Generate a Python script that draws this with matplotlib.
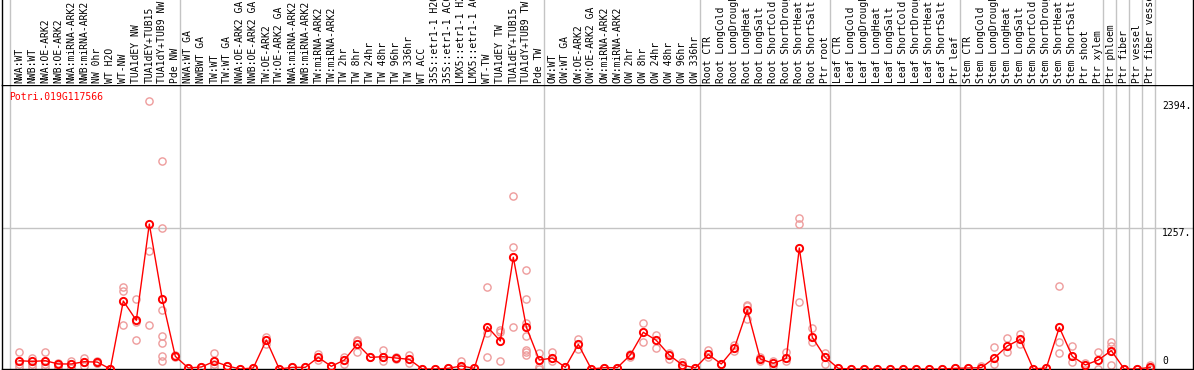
import matplotlib
matplotlib.use("Agg")
import matplotlib.pyplot as plt
from matplotlib.transforms import blended_transform_factory

labels = [
    "NWA:WT", "NWB:WT", "NWA:OE-ARK2", "NWB:OE-ARK2", "NWA:miRNA-ARK2", "NWB:miRNA-ARK2",
    "NW 0hr", "WT H2O", "WT-NW", "TUA1dEY NW", "TUA1dEY+TUB15", "TUA1dY+TUB9 NW", "Pde NW",
    "NWA:WT GA", "NWBWT GA", "TW:WT", "TW:WT GA", "NWA:OE-ARK2 GA", "NWB:OE-ARK2 GA",
    "TW:OE-ARK2", "TW:OE-ARK2 GA", "NWA:miRNA-ARK2", "NWB:miRNA-ARK2", "TW:miRNA-ARK2",
    "TW:miRNA-ARK2", "TW 2hr", "TW 8hr", "TW 24hr", "TW 48hr", "TW 96hr", "TW 336hr",
    "WT ACC", "35S::etr1-1 H2O", "35S::etr1-1 ACC", "LMX5::etr1-1 H2O", "LMX5::etr1-1 ACC",
    "WT-TW", "TUA1dEY TW", "TUA1dEY+TUB15", "TUA1dY+TUB9 TW", "Pde TW",
    "OW:WT", "OW:WT GA", "OW:OE-ARK2", "OW:OE-ARK2 GA", "OW:miRNA-ARK2", "OW:miRNA-ARK2",
    "OW 2hr", "OW 8hr", "OW 24hr", "OW 48hr", "OW 96hr", "OW 336hr",
    "Root CTR", "Root LongCold", "Root LongDrought", "Root LongHeat", "Root LongSalt",
    "Root ShortCold", "Root ShortDrought", "Root ShortHeat", "Root ShortSalt", "Ptr root",
    "Leaf CTR", "Leaf LongCold", "Leaf LongDrought", "Leaf LongHeat", "Leaf LongSalt",
    "Leaf ShortCold", "Leaf ShortDrought", "Leaf ShortHeat", "Leaf ShortSalt", "Ptr leaf",
    "Stem CTR", "Stem LongCold", "Stem LongDrought", "Stem LongHeat", "Stem LongSalt",
    "Stem ShortCold", "Stem ShortDrought", "Stem ShortHeat", "Stem ShortSalt",
    "Ptr shoot", "Ptr xylem", "Ptr phloem", "Ptr fiber", "Ptr vessel", "Ptr fiber vessel",
]

means = [
    74, 68, 74, 45, 45, 65, 62, 0, 607, 435, 1295, 622, 113,
    9, 18, 68, 27, 0, 9, 259, 0, 15, 15, 104, 24, 80, 223, 104, 110, 98, 86,
    0, 0, 6, 27, 6, 378, 250, 998, 375, 80,
    98, 15, 220, 0, 12, 12, 125, 328, 256, 125, 36, 9,
    130, 45, 185, 527, 89, 51, 95, 1081, 283, 104,
    6, 0, 0, 0, 0, 0, 0, 0, 0, 6,
    9, 12, 98, 205, 265, 0, 9, 372, 113, 36, 80,
    164, 0, 0, 15,
]

replicates = [
    [149, 45, 15], [98, 45, 21], [149, 45, 15], [57, 30, 15], [74, 45, 9],
    [98, 60, 30], [74, 57, 51], [0, 0], [735, 700, 390], [625, 424, 256],
    [2394, 1051, 390], [1855, 1257, 524, 292, 229, 119, 74], [128, 104],
    [9], [18], [146, 45, 21], [27], [0], [9], [289, 223, 259], [0], [15], [15],
    [134, 80], [24], [104, 45], [259, 155, 250], [104], [170, 74, 110], [110, 89],
    [122, 57], [0], [0], [6], [74, 15], [6],
    [733, 319, 104], [348, 328, 68], [1543, 1087, 372],
    [884, 625, 408, 292, 170, 149, 128], [140, 21, 0],
    [149, 74], [15], [268, 179], [0], [12], [12], [134, 110], [411, 244],
    [307, 185], [140, 89], [60, 21], [9],
    [170, 104], [45], [214, 164], [572, 444, 560], [104, 74], [68, 30],
    [149, 68], [1346, 1295, 596], [363, 238], [140, 45],
    [6], [0], [0], [0], [0], [0], [0], [0], [0], [6],
    [9], [27], [194, 45], [277, 155], [316, 223], [0], [9], [741, 238, 140],
    [203, 60], [51], [152, 0], [244, 209, 36], [0], [0], [36, 0],
]

group_ends = [12, 40, 52, 62, 72, 83, 84, 85, 86, 87]
ytick_values = [2394, 1257, 0]
ytick_labels = ["2394.", "1257.", "0"]
gene = "Potri.019G117566"

W, H = 1194, 370
fig = plt.figure(figsize=(W / 100, H / 100), dpi=100)
plt.rcParams["axes.linewidth"] = 1.0

# pixel geometry
left_px, right_px = 2, 1193
plot_top, plot_bot = 85, 369
x0_px, step_px = 19.3, 13.0
xlim = ((left_px - x0_px) / step_px, (right_px - x0_px) / step_px)
px_per_unit = (369 - 228.3) / 1257.0
ylim = (0, (plot_bot - plot_top) / px_per_unit)

ax = fig.add_axes([left_px / W, (H - plot_bot) / H, (right_px - left_px) / W,
                   (plot_bot - plot_top) / H])
axl = fig.add_axes([left_px / W, (H - plot_top) / H, (right_px - left_px) / W,
                    plot_top / H])

grey = "#c4c4c4"
bounds = [-0.715] + [g + 5 / 13 for g in group_ends]
for a in (ax, axl):
    a.set_xlim(*xlim)
    a.set_xticks([])
    a.set_yticks([])
    for b in bounds:
        a.axvline(b, color=grey, lw=1.0, zorder=0)
    for s in a.spines.values():
        s.set_color("black")
        s.set_linewidth(1.0)
axl.set_ylim(0, 1)
axl.spines["top"].set_visible(False)
axl.spines["bottom"].set_visible(False)

ax.set_ylim(*ylim)
ax.axhline(1257, color=grey, lw=1.0, zorder=0)

mono = "DejaVu Sans Mono"
fs = 7.0

# labels
for i, lab in enumerate(labels):
    t = axl.text(i, 2 / plot_top, lab, rotation=90, ha="center", va="bottom",
                 fontsize=fs, family=mono, color="black", clip_on=True)

# replicates
for i, reps in enumerate(replicates):
    ax.plot([i] * len(reps), reps, linestyle="none", marker="o", ms=5.2,
            mfc="none", mec="#ee9c9c", mew=1.0, zorder=2)

# means
xs = list(range(len(means)))
ax.plot(xs, means, color="red", lw=1.0, zorder=3)
ax.plot(xs, means, linestyle="none", marker="o", ms=5.2, mfc="none",
        mec="red", mew=1.4, zorder=4)

# gene name
ax.text(7 / (right_px - left_px), 1 - 7 / (plot_bot - plot_top), gene,
        transform=ax.transAxes, ha="left", va="top", fontsize=fs, family=mono,
        color="red")

# right value labels
tr = blended_transform_factory(fig.transFigure, ax.transData)
for v, s in zip(ytick_values, ytick_labels):
    if v == 0:
        ax.text(1162 / W, v + 3 / px_per_unit, s, transform=tr, ha="left",
                va="bottom", fontsize=fs, family=mono, color="black")
    else:
        ax.text(1162 / W, v, s, transform=tr, ha="left", va="top",
                fontsize=fs, family=mono, color="black")

fig.savefig("out.png", dpi=100)
